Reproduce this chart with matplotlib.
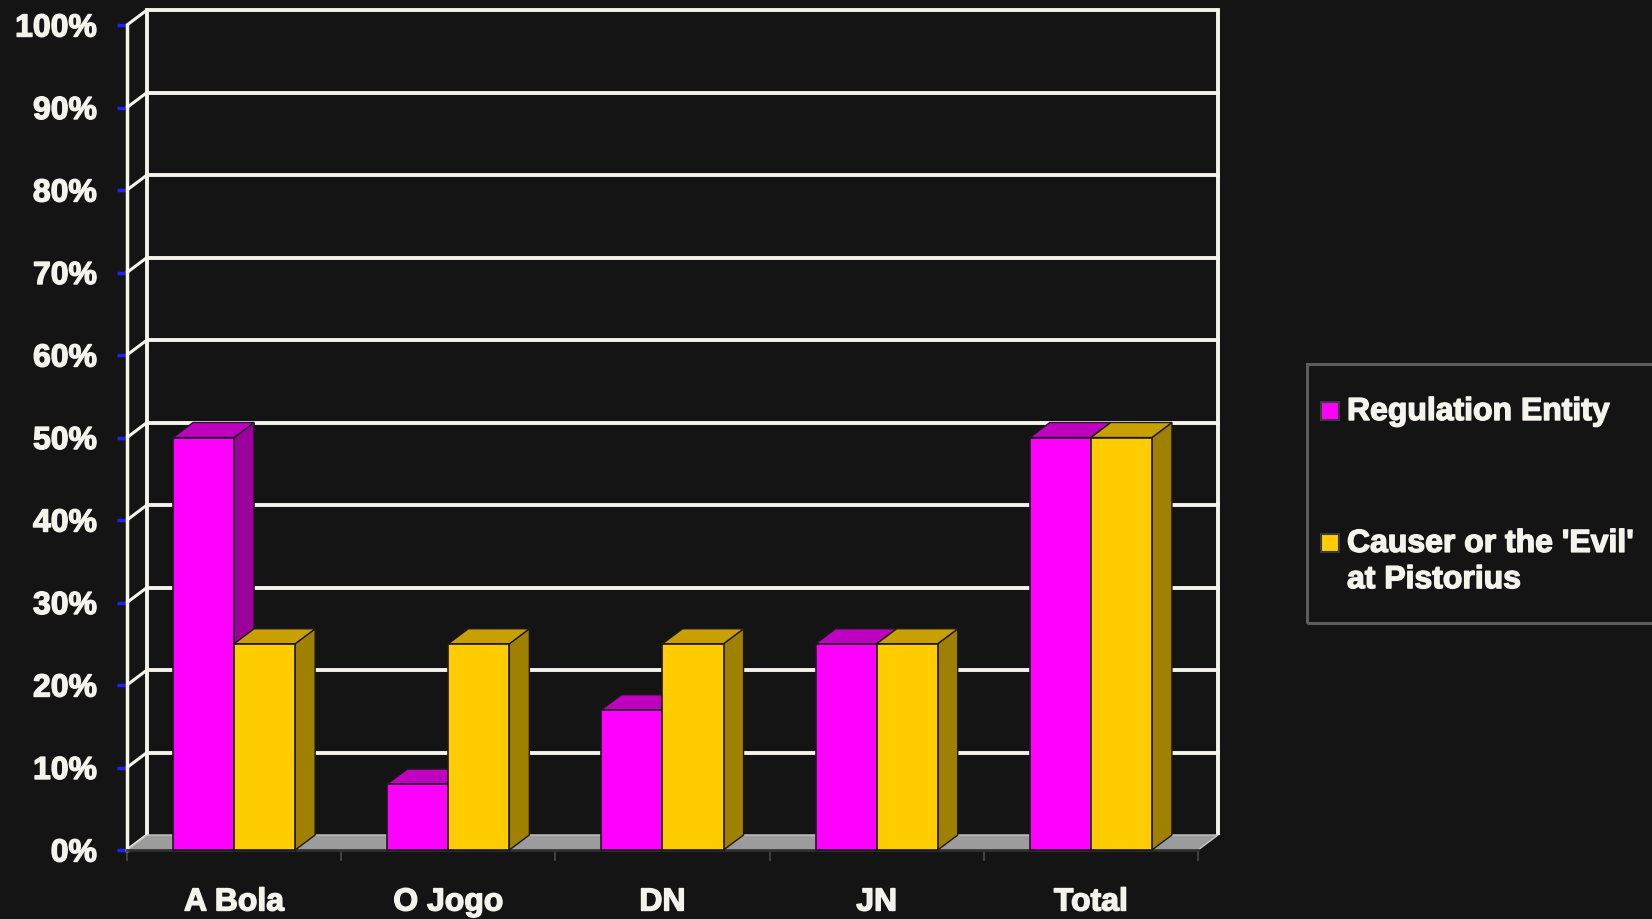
import matplotlib.pyplot as plt
import matplotlib.patheffects as pe
import numpy as np
from matplotlib.patches import Polygon, Rectangle

# Chart data
categories = ["A Bola", "O Jogo", "DN", "JN", "Total"]
regulation_entity = [50, 8, 17, 25, 50]
causer_evil = [25, 25, 25, 25, 50]
y_ticks = [0, 10, 20, 30, 40, 50, 60, 70, 80, 90, 100]
series_labels = ["Regulation Entity", "Causer or the 'Evil'\nat Pistorius"]

# Colours
bg = "#141414"
cream = "#f4f4ec"
magenta = ["#ff00ff", "#c000c0", "#9c009c"]  # front, top, side
yellow = ["#ffcc00", "#c8a000", "#a08000"]

plt.rcParams["font.family"] = ["Liberation Sans", "DejaVu Sans"]
plt.rcParams["font.weight"] = "bold"

# slightly heavier text, like the original
heavy = [pe.withStroke(linewidth=1.0, foreground=cream)]

W, H = 1652, 919
fig = plt.figure(figsize=(W / 100, H / 100), dpi=100)
fig.patch.set_facecolor(bg)

ax = fig.add_axes([127 / W, (H - 850) / H, (1218 - 127) / W, (850 - 10) / H])
ax.set_facecolor("none")

DX = 20 / 214.2  # depth offset, category units
DY = 15 / 8.25   # depth offset, percent
BW = 0.285       # bar width

ax.set_xlim(-0.5, 4.5 + DX)
ax.set_ylim(0, 840 / 8.25)

# Back wall grid lines and connectors to the front axis
for v in y_ticks:
    ax.plot([-0.5, -0.5 + DX], [v, v + DY], color=cream, lw=2.2,
            clip_on=False, zorder=1)
    if v > 0:
        ax.plot([-0.5 + DX, 4.5 + DX], [v + DY, v + DY], color=cream, lw=2.8,
                clip_on=False, zorder=1)
ax.vlines([-0.5 + DX, 4.5 + DX], DY, 100 + DY, color=cream, lw=2.8,
          clip_on=False, zorder=1)

# Floor
floor = Polygon([(-0.5, 0), (4.5, 0), (4.5 + DX, DY), (-0.5 + DX, DY)],
                closed=True, facecolor="#9c9c9c", edgecolor="#c8c8c8", lw=1.0,
                clip_on=False, zorder=1.5)
ax.add_patch(floor)


def draw_bars(xs, vals, cols, z):
    for x0, h in zip(xs, vals):
        side = Polygon([(x0 + BW, 0), (x0 + BW + DX, DY), (x0 + BW + DX, h + DY), (x0 + BW, h)],
                       closed=True, facecolor=cols[2], edgecolor="#1a1a1a", lw=1.0,
                       clip_on=False, zorder=z)
        top = Polygon([(x0, h), (x0 + BW, h), (x0 + BW + DX, h + DY), (x0 + DX, h + DY)],
                      closed=True, facecolor=cols[1], edgecolor="#1a1a1a", lw=1.0,
                      clip_on=False, zorder=z)
        ax.add_patch(side)
        ax.add_patch(top)
    ax.bar(xs, vals, BW, align="edge", color=cols[0], edgecolor="#1a1a1a",
           lw=1.2, zorder=z + 0.5, clip_on=False)


x = np.arange(len(categories))
draw_bars(x - BW, regulation_entity, magenta, 3)
draw_bars(x, causer_evil, yellow, 5)

# Axes styling
for s in ["top", "right"]:
    ax.spines[s].set_visible(False)
ax.spines["left"].set_color(cream)
ax.spines["left"].set_linewidth(2.5)
ax.spines["left"].set_bounds(0, 100)
ax.spines["bottom"].set_color("#303030")
ax.spines["bottom"].set_linewidth(2)
ax.spines["bottom"].set_bounds(-0.5, 4.5)
ax.spines["left"].set_zorder(2)

ax.set_yticks(y_ticks, labels=["{}%".format(v) for v in y_ticks])
ax.tick_params(axis="y", direction="out", length=7.5, width=2.5, color="#2020ff",
               pad=14, labelsize=23, labelcolor=cream)
ax.set_xticks(x, labels=categories)
ax.set_xticks(np.arange(-0.5, 5, 1), minor=True)
ax.tick_params(axis="x", which="major", length=0, pad=27, labelsize=23,
               labelcolor=cream)
ax.tick_params(axis="x", which="minor", length=8, width=1.5, color="#404040")
for lbl in ax.get_xticklabels() + ax.get_yticklabels():
    lbl.set_path_effects(heavy)

# Legend box
def fx(px):
    return px / W


def fy(py):
    return 1 - py / H


fig.patches.append(Rectangle((fx(1307), fy(623)), fx(1700) - fx(1307), (623 - 364) / H,
                             transform=fig.transFigure, facecolor="none",
                             edgecolor="#5c5c5c", lw=2.2))
for cols, lab, yc, yt in [(magenta, series_labels[0], 411, 412),
                          (yellow, series_labels[1], 543, 562)]:
    fig.patches.append(Rectangle((fx(1321), fy(yc + 9)), 18 / W, 18 / H,
                                 transform=fig.transFigure, facecolor=cols[0],
                                 edgecolor="#3a3a3a", lw=1.5))
    fig.text(fx(1347), fy(yt), lab, va="center", ha="left", fontsize=23,
             color=cream, linespacing=1.27, path_effects=heavy)

fig.savefig("out.png", dpi=100, facecolor=fig.get_facecolor())
